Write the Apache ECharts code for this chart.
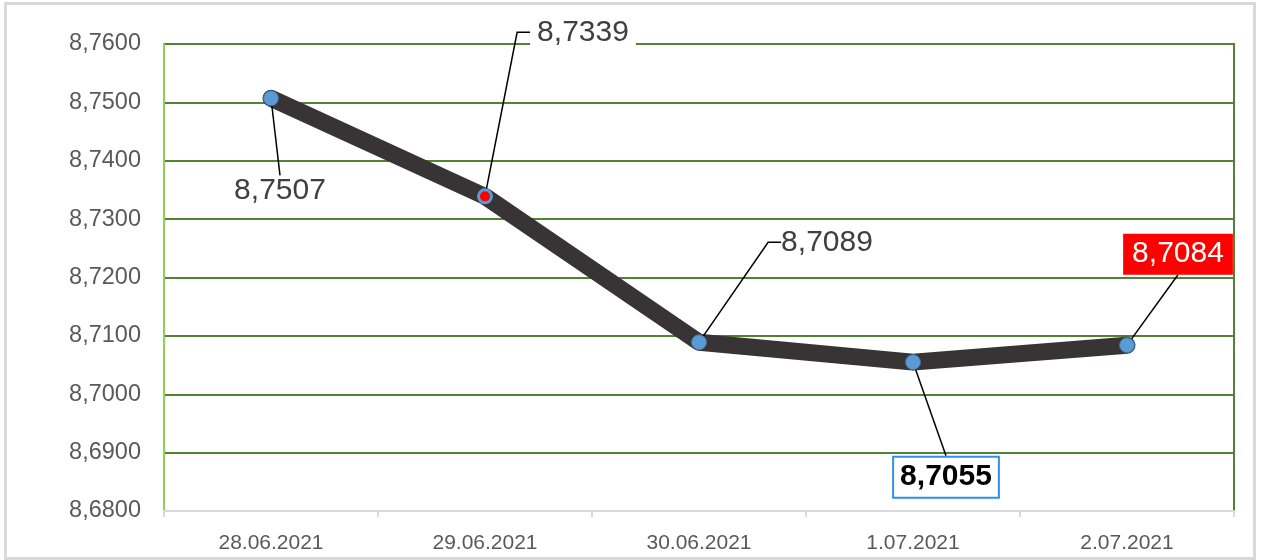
<!DOCTYPE html>
<html>
<head>
<meta charset="utf-8">
<script src="https://cdn.jsdelivr.net/npm/echarts@6/dist/echarts.min.js"></script>
<style>
	html, body {
		margin: 0;
		padding: 0;
		background: #fff;
	}
	#chart {
		position: absolute;
		left: 4px;
		top: 2px;
		width: 1246px;
		height: 552px;
		border: 3px solid #d9d9d9;
	}
</style>
</head>
<body>
<div id="chart"></div>
<script>
// даты
const dates = ['28.06.2021', '29.06.2021', '30.06.2021', '1.07.2021', '2.07.2021'];
// курс
const rates = [8.7507, 8.7339, 8.7089, 8.7055, 8.7084];
// шкала Y
const yMin = 8.68;
const yMax = 8.76;
const yStep = 0.01;

// куда сдвинуть подпись от точки, и длина «полочки» выноски
const labelShift = [
	{ dx: 9, dy: 92, shelf: 0 },
	{ dx: 98, dy: -164, shelf: 13 },
	{ dx: 128, dy: -100, shelf: 13 },
	{ dx: 33, dy: 115, shelf: 0 },
	{ dx: 51, dy: -91, shelf: 0 },
];

const fmt = v => v.toFixed(4).replace('.', ',');

const baseLabel = {
	show: true,
	position: 'inside',
	fontFamily: 'Liberation Sans, Arial, sans-serif',
	fontSize: 30,
	color: '#404040',
	formatter: p => fmt(p.value),
};

// стили подписей по точкам
const labelStyles = [
	{},
	{ backgroundColor: '#fff', lineHeight: 22, padding: [2, 7] },
	{ padding: [0, 4] },
	{ color: '#000', fontWeight: 'bold', backgroundColor: '#fff', borderColor: '#2f8ff0', borderWidth: 2, padding: [6, 6, 3, 6] },
	{ color: '#fff', backgroundColor: '#ff0000', padding: [7, 9, 4, 9] },
];

const seriesData = rates.map((v, i) => {
	const item = {
		value: v,
		label: Object.assign({}, baseLabel, labelStyles[i]),
		labelLine: { show: true, length2: labelShift[i].shelf },
	};
	if (i === 1) {
		item.itemStyle = { color: '#ff0000', borderColor: '#5b9bd5', borderWidth: 3 };
		item.symbolSize = 13;
	}
	return item;
});

const chart = echarts.init(document.getElementById('chart'));
chart.setOption({
	animation: false,
	grid: {
		left: 157,
		right: 19,
		top: 39,
		bottom: 46,
		show: true,
		borderColor: '#548235',
		borderWidth: 2,
	},
	xAxis: {
		type: 'category',
		data: dates,
		boundaryGap: true,
		axisLine: { lineStyle: { color: '#d9d9d9', width: 2 } },
		axisTick: { show: true, length: 6, lineStyle: { color: '#d9d9d9', width: 2 } },
		axisLabel: {
			color: '#595959',
			fontSize: 21,
			fontFamily: 'Liberation Sans, Arial, sans-serif',
			margin: 22,
		},
	},
	yAxis: {
		type: 'value',
		min: yMin,
		max: yMax,
		interval: yStep,
		axisLine: { show: true, lineStyle: { color: '#92d050', width: 2 } },
		axisTick: { show: false },
		splitLine: { lineStyle: { color: '#548235', width: 2 } },
		axisLabel: {
			color: '#595959',
			fontSize: 23.5,
			fontFamily: 'Liberation Sans, Arial, sans-serif',
			margin: 23,
			formatter: v => fmt(v),
		},
	},
	series: [
		{
			type: 'line',
			data: seriesData,
			symbol: 'circle',
			symbolSize: 15,
			clip: false,
			lineStyle: { color: '#383435', width: 17, cap: 'round', join: 'round' },
			itemStyle: { color: '#5b9bd5', borderColor: '#41719c', borderWidth: 1 },
			labelLine: { show: true, lineStyle: { color: '#000', width: 1.5 } },
			labelLayout: params => {
				const s = labelShift[params.dataIndex];
				const r = params.rect;
				return {
					x: r.x + r.width / 2 + s.dx,
					y: r.y + r.height / 2 + s.dy,
					align: 'center',
					verticalAlign: 'middle',
				};
			},
		},
	],
});
</script>
</body>
</html>
